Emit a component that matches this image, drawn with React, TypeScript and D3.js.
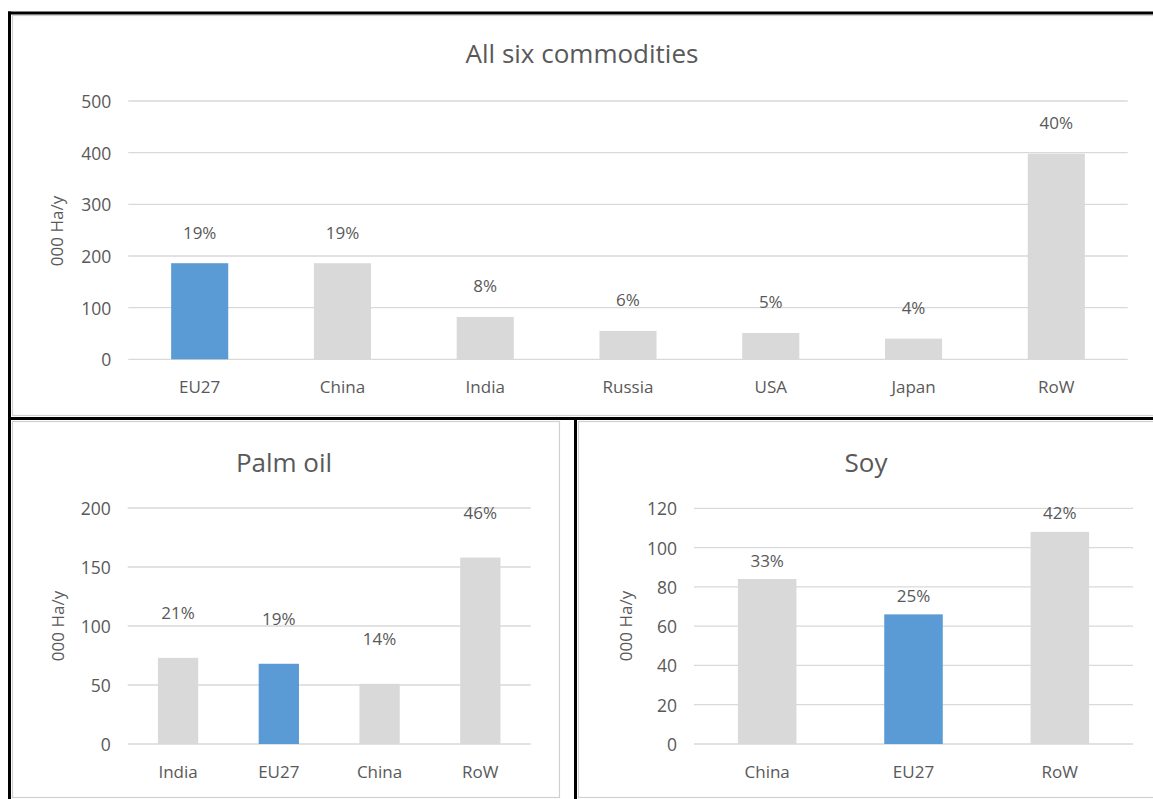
import React from "react";
import * as d3 from "d3";

// ---------- DATA ----------
const allCategories = ["EU27", "China", "India", "Russia", "USA", "Japan", "RoW"];
const allValues = [186, 186, 82, 55, 51, 40, 398];
const allShares = ["19%", "19%", "8%", "6%", "5%", "4%", "40%"];
const allTicks = [0, 100, 200, 300, 400, 500];

const palmCategories = ["India", "EU27", "China", "RoW"];
const palmValues = [73, 68, 51, 158];
const palmShares = ["21%", "19%", "14%", "46%"];
const palmTicks = [0, 50, 100, 150, 200];

const soyCategories = ["China", "EU27", "RoW"];
const soyValues = [84, 66, 108];
const soyShares = ["33%", "25%", "42%"];
const soyTicks = [0, 20, 40, 60, 80, 100, 120];

const highlight = "EU27";
const yAxisTitle = "000 Ha/y";

// ---------- STYLE ----------
const FONT = "'Open Sans', sans-serif";
const TEXT = "#595959";
const GRID = "#d9d9d9";
const BLUE = "#5b9bd5";
const GREY = "#d9d9d9";

type PanelProps = {
  title: string;
  categories: string[];
  values: number[];
  shares: string[];
  ticks: number[];
  x0: number;
  x1: number;
  yBottom: number;
  yTop: number;
  titleX: number;
  titleY: number;
  yTitleX: number;
  yTitleY: number;
  labelOffset: number;
};

function Panel(p: PanelProps) {
  const x = d3
    .scaleBand<string>()
    .domain(p.categories)
    .range([p.x0, p.x1])
    .paddingInner(0.6)
    .paddingOuter(0.3);
  const yMax = p.ticks[p.ticks.length - 1];
  const y = d3.scaleLinear().domain([0, yMax]).range([p.yBottom, p.yTop]);
  return (
    <g fontFamily={FONT} fill={TEXT}>
      <text x={p.titleX} y={p.titleY} fontSize={26} textAnchor="middle" dominantBaseline="central">
        {p.title}
      </text>
      {p.ticks.map((t) => (
        <g key={t}>
          <line x1={p.x0} x2={p.x1} y1={y(t)} y2={y(t)} stroke={GRID} strokeWidth={1.3} />
          <text x={p.x0 - 17} y={y(t)} fontSize={17.5} textAnchor="end" dominantBaseline="central">
            {t}
          </text>
        </g>
      ))}
      <text
        transform={`translate(${p.yTitleX},${p.yTitleY}) rotate(-90)`}
        fontSize={17}
        textAnchor="middle"
        dominantBaseline="central"
      >
        {yAxisTitle}
      </text>
      {p.categories.map((c, i) => {
        const bx = x(c) as number;
        const cx = bx + x.bandwidth() / 2;
        const top = y(p.values[i]);
        return (
          <g key={c}>
            <rect
              x={bx}
              y={top}
              width={x.bandwidth()}
              height={y(0) - top}
              fill={c === highlight ? BLUE : GREY}
            />
            <text x={cx} y={top - p.labelOffset} fontSize={17} textAnchor="middle" dominantBaseline="central">
              {p.shares[i]}
            </text>
            <text x={cx} y={y(0) + 27} fontSize={17} textAnchor="middle" dominantBaseline="central">
              {c}
            </text>
          </g>
        );
      })}
    </g>
  );
}

export default function App() {
  return (
    <svg
      width={1153}
      height={799}
      style={{ position: "absolute", left: 0, top: 0, background: "#fff" }}
    >
      <rect x={0} y={0} width={1153} height={799} fill="#fff" />
      {/* inner grey chart-area borders */}
      <rect x={12.5} y={15.5} width={1160} height={400} fill="none" stroke="#d0d0d0" strokeWidth={1.2} />
      <rect x={12.5} y={421.5} width={547} height={376} fill="none" stroke="#d0d0d0" strokeWidth={1.2} />
      <rect x={578.5} y={421.5} width={600} height={376} fill="none" stroke="#d0d0d0" strokeWidth={1.2} />
      {/* black outer frames */}
      <line x1={8} x2={1153} y1={13} y2={13} stroke="#000" strokeWidth={3} />
      <line x1={8} x2={1153} y1={418.5} y2={418.5} stroke="#000" strokeWidth={3} />
      <line x1={9.5} x2={9.5} y1={11.5} y2={799} stroke="#000" strokeWidth={3} />
      <line x1={575.5} x2={575.5} y1={418} y2={799} stroke="#000" strokeWidth={3} />

      <Panel
        title="All six commodities"
        categories={allCategories}
        values={allValues}
        shares={allShares}
        ticks={allTicks}
        x0={128.3}
        x1={1127.7}
        yBottom={359.3}
        yTop={101}
        titleX={582}
        titleY={53}
        yTitleX={56}
        yTitleY={231}
        labelOffset={31}
      />
      <Panel
        title="Palm oil"
        categories={palmCategories}
        values={palmValues}
        shares={palmShares}
        ticks={palmTicks}
        x0={127.7}
        x1={530.7}
        yBottom={744}
        yTop={508}
        titleX={284}
        titleY={462}
        yTitleX={57}
        yTitleY={626}
        labelOffset={45}
      />
      <Panel
        title="Soy"
        categories={soyCategories}
        values={soyValues}
        shares={soyShares}
        ticks={soyTicks}
        x0={694}
        x1={1133}
        yBottom={744}
        yTop={508.3}
        titleX={866}
        titleY={462}
        yTitleX={625}
        yTitleY={626}
        labelOffset={19}
      />
    </svg>
  );
}
